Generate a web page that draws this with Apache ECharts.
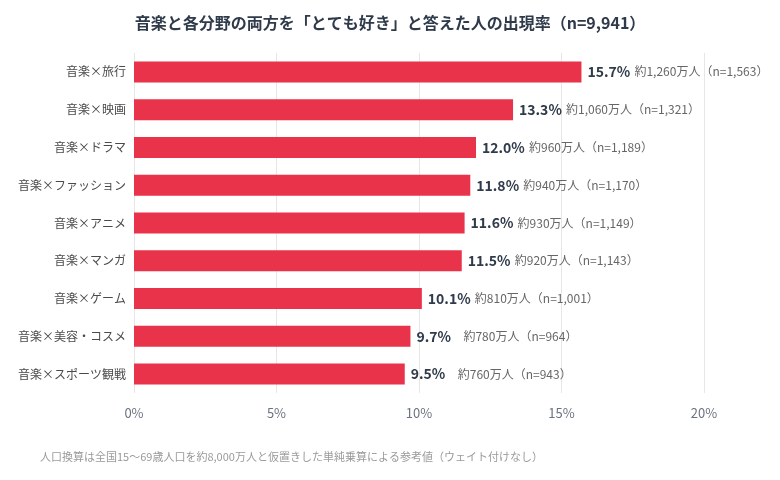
<!DOCTYPE html>
<html>
<head>
<meta charset="utf-8">
<script src="https://cdn.jsdelivr.net/npm/echarts@6/dist/echarts.min.js"></script>
<style>
  html, body { margin: 0; padding: 0; background: #fff; }
  #main { width: 780px; height: 480px; }
</style>
</head>
<body>
<div id="main"></div>
<script>
var categories = ['音楽×旅行', '音楽×映画', '音楽×ドラマ', '音楽×ファッション', '音楽×アニメ',
    '音楽×マンガ', '音楽×ゲーム', '音楽×美容・コスメ', '音楽×スポーツ観戦'];
var rates = [15.7, 13.3, 12.0, 11.8, 11.6, 11.5, 10.1, 9.7, 9.5];
var people = ['1,260', '1,060', '960', '940', '930', '920', '810', '780', '760'];
var counts = ['1,563', '1,321', '1,189', '1,170', '1,149', '1,143', '1,001', '964', '943'];
var xTicks = [0, 5, 10, 15, 20];

var font = '"Noto Sans CJK JP", "Noto Sans", sans-serif';
var chart = echarts.init(document.getElementById('main'));

var option = {
    backgroundColor: '#fff',
    textStyle: { fontFamily: font },
    title: {
        text: '音楽と各分野の両方を「とても好き」と答えた人の出現率（n=9,941）',
        left: 'center',
        top: 10,
        textStyle: { fontSize: 16, fontWeight: 'bold', color: '#2f3a4a', fontFamily: font }
    },
    graphic: [{
        type: 'text',
        left: 40,
        top: 451,
        style: {
            text: '人口換算は全国15〜69歳人口を約8,000万人と仮置きした単純乗算による参考値（ウェイト付けなし）',
            fill: '#9a9a9a',
            fontSize: 11,
            fontFamily: font
        }
    }],
    grid: { left: 134, right: 76, top: 53, bottom: 87 },
    xAxis: {
        type: 'value',
        min: 0,
        max: 20,
        interval: 5,
        axisLine: { show: false },
        axisTick: { show: false },
        splitLine: { lineStyle: { color: '#e6e6e6' } },
        axisLabel: {
            color: '#6b7280',
            fontSize: 13,
            margin: 14,
            formatter: function (v) { return xTicks.indexOf(v) >= 0 ? v + '%' : ''; }
        }
    },
    yAxis: {
        type: 'category',
        data: categories,
        inverse: true,
        axisLine: { show: false },
        axisTick: { show: false },
        axisLabel: { color: '#4a4a4a', fontSize: 12, margin: 8 }
    },
    series: [{
        type: 'bar',
        data: rates,
        barWidth: 21,
        itemStyle: { color: '#e8334a' },
        label: {
            show: true,
            position: 'right',
            distance: 6,
            formatter: function (p) {
                var i = p.dataIndex;
                return '{pct|' + rates[i].toFixed(1) + '%}{rest|約' + people[i] + '万人（n=' + counts[i] + '）}';
            },
            rich: {
                pct: { fontSize: 14, fontWeight: 'bold', color: '#2f3a4a', width: 47, fontFamily: font },
                rest: { fontSize: 12, color: '#666', fontFamily: font }
            }
        }
    }]
};

chart.setOption(option);
</script>
</body>
</html>
